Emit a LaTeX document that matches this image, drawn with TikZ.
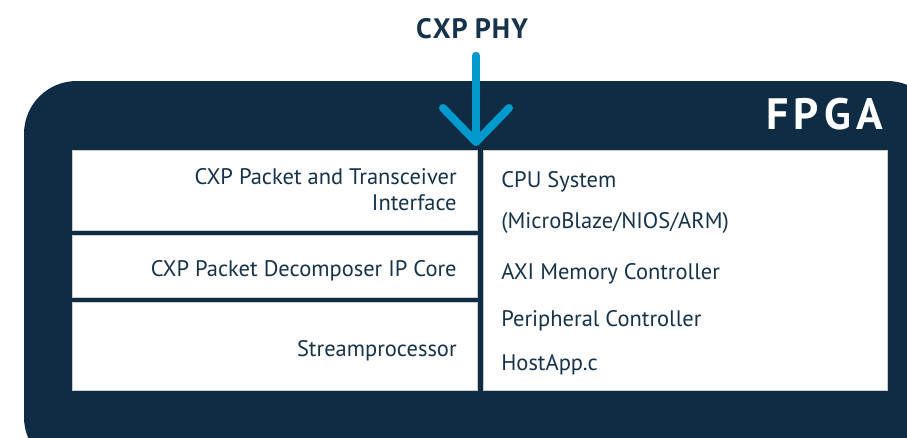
\documentclass[tikz,border=0pt]{standalone}
\usepackage{fontspec}
\setmainfont{PT Sans}
\usepackage{tikz}
\usetikzlibrary{arrows.meta}

\definecolor{navy}{HTML}{0E2D45}
\definecolor{ink}{HTML}{16334B}
\definecolor{phyblue}{HTML}{009ACD}

\tikzset{
  cell/.style={fill=white, draw=gray!40, line width=0.3pt},
  lbl/.style={text=ink, font=\fontsize{12.8}{15}\selectfont, inner sep=0pt},
}

\begin{document}
\begin{tikzpicture}[x=0.02cm, y=-0.02cm]
\useasboundingbox (0,0) rectangle (907,437);
\clip (0,0) rectangle (907,437);

% FPGA frame
\draw[fill=navy, draw=none, rounded corners=30] (24,81) rectangle (940,470);
\node[anchor=base east, text=white, font=\bfseries\fontsize{25}{30}\selectfont, inner sep=0pt] (fpga) at (883,129) {F\kern3pt P\kern3pt G\kern3pt A};

% cells
\draw[cell] (72,150) rectangle (477,230);
\draw[cell] (72,235) rectangle (477,297);
\draw[cell] (72,302) rectangle (477,390);
\draw[cell] (483,150) rectangle (887,390);

\node[lbl, anchor=base east] (tx1) at (457,184) {CXP Packet and Transceiver};
\node[lbl, anchor=base east] (tx2) at (457,210) {Interface};
\node[lbl, anchor=base east] (dec) at (457,276) {CXP Packet Decomposer IP Core};
\node[lbl, anchor=base east] (sp) at (457,356) {Streamprocessor};

\node[lbl, anchor=base west] (cpu) at (501,187) {CPU System};
\node[lbl, anchor=base west] (mb) at (501,228) {(MicroBlaze/NIOS/ARM)};
\node[lbl, anchor=base west] (axi) at (501,279) {AXI Memory Controller};
\node[lbl, anchor=base west] (per) at (501,326) {Peripheral Controller};
\node[lbl, anchor=base west] (host) at (501,370) {HostApp.c};

% CXP input
\node[anchor=base, text=ink, font=\bfseries\fontsize{16}{19}\selectfont, inner sep=0pt] (phy) at (472,38) {C\kern0.6pt X\kern0.6pt P P\kern0.6pt H\kern0.6pt Y};
\coordinate (rx) at (476,146);
\draw[phyblue, line width=8*0.02cm, line cap=round,
  -{Straight Barb[length=34*0.02cm, width=66*0.02cm, round]}]
  (phy.south) ++(4,17) -- (rx);
\end{tikzpicture}
\end{document}
